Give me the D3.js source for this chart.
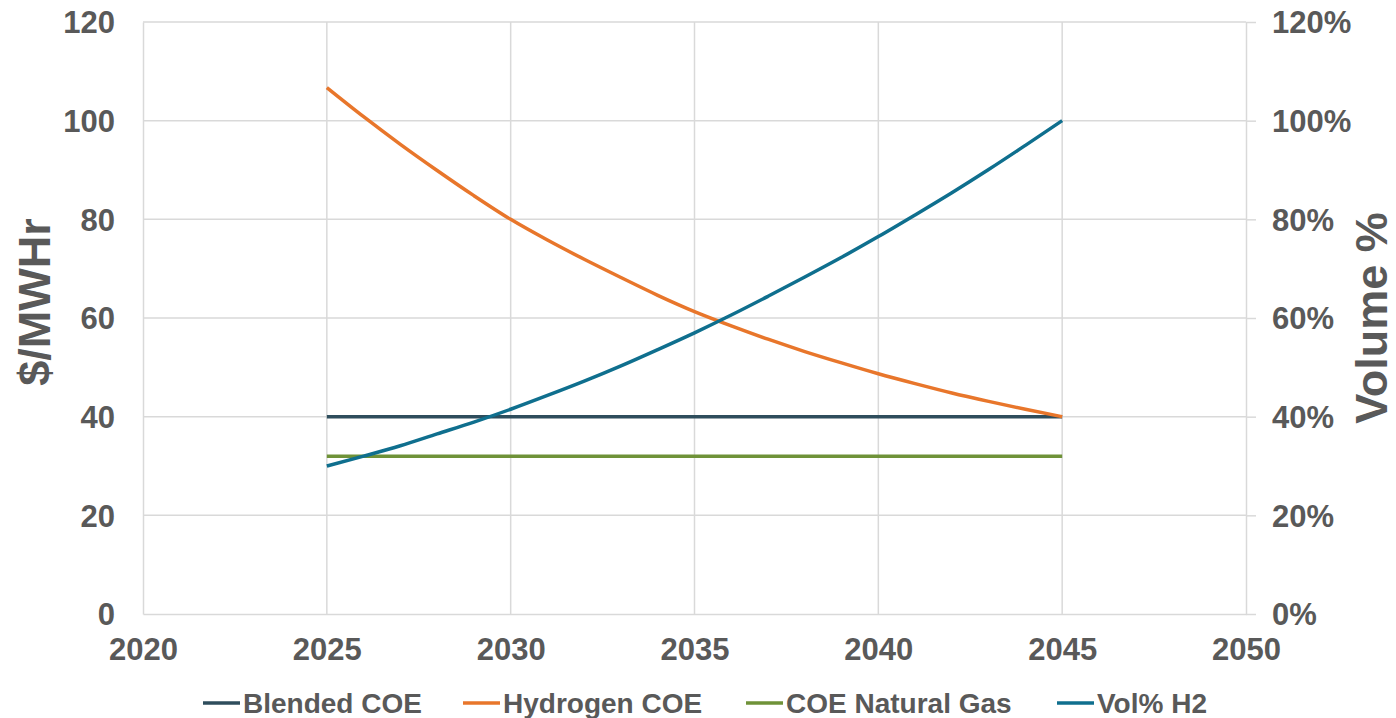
<!DOCTYPE html>
<html>
<head>
    <meta charset="utf-8" />
    <style>
        body { margin: 0; background: #fff; }
        svg { display: block; font-family: "Liberation Sans", Arial, sans-serif; }
        .grid line { stroke: #d9d9d9; stroke-width: 1.5; }
        .axis path, .axis line { stroke: #d9d9d9; stroke-width: 1.5; }
        .axis text { fill: #595959; font-weight: bold; font-size: 31px; }
        .title { fill: #595959; font-weight: bold; font-size: 45px; }
        .legend text { fill: #595959; font-weight: bold; font-size: 28px; }
    </style>
    <script src="https://d3js.org/d3.v7.min.js"></script>
</head>
<body>
<script>

// data
let years = d3.range(2025, 2046);
let blendedCOE = years.map(() => 40);
let naturalGasCOE = years.map(() => 32);
let hydrogenCOE = [106.7, 100.8, 95.2, 89.9, 84.8, 80.0, 75.8, 71.9, 68.2, 64.6,
                   61.3, 58.4, 55.7, 53.2, 50.9, 48.7, 46.7, 44.8, 43.1, 41.5, 40.0];
let volH2 = [30.0, 32.0, 34.1, 36.5, 38.9, 41.5, 44.3, 47.2, 50.3, 53.6,
             57.0, 60.6, 64.4, 68.3, 72.3, 76.5, 80.9, 85.4, 90.1, 95.0, 100.0];

let xTicks = [2020, 2025, 2030, 2035, 2040, 2045, 2050];
let yTicks = [0, 20, 40, 60, 80, 100, 120];
let y2Ticks = [0, 20, 40, 60, 80, 100, 120];

let seriesNames = ["Blended COE", "Hydrogen COE", "COE Natural Gas", "Vol% H2"];
let seriesColors = ["#2e4d5c", "#e8762b", "#6f9238", "#0f6f8e"];

let realW = 1396, realH = 718;
let margin = { top: 22, right: 150, bottom: 104, left: 143 };
let w = realW - margin.left - margin.right,
    h = realH - margin.top - margin.bottom;

let svg = d3.select("body").append("svg")
    .attr("width", realW)
    .attr("height", realH);

let g = svg.append("g")
    .attr("transform", "translate(" + margin.left + "," + margin.top + ")");

let xScale = d3.scaleLinear().domain([2020, 2050]).range([0, w]);
let yScale = d3.scaleLinear().domain([0, 120]).range([h, 0]);
let y2Scale = d3.scaleLinear().domain([0, 120]).range([h, 0]);

// gridlines
g.append("g").attr("class", "grid")
    .selectAll("line").data(xTicks.slice(1, -1)).enter().append("line")
    .attr("x1", d => xScale(d)).attr("x2", d => xScale(d))
    .attr("y1", 0).attr("y2", h);

g.append("g").attr("class", "grid")
    .selectAll("line").data(yTicks.slice(1)).enter().append("line")
    .attr("x1", 0).attr("x2", w)
    .attr("y1", d => yScale(d)).attr("y2", d => yScale(d));

// axes
let xAxis = d3.axisBottom(xScale).tickValues(xTicks).tickFormat(d3.format("d"))
    .tickSize(0).tickPadding(24);
g.append("g").attr("class", "axis")
    .attr("transform", "translate(0," + h + ")")
    .call(xAxis);

let yAxis = d3.axisLeft(yScale).tickValues(yTicks).tickSize(0).tickPadding(28);
g.append("g").attr("class", "axis").call(yAxis);

let y2Axis = d3.axisRight(y2Scale).tickValues(y2Ticks)
    .tickFormat(d => d + "%").tickSizeInner(10).tickSizeOuter(0).tickPadding(16);
g.append("g").attr("class", "axis")
    .attr("transform", "translate(" + w + ",0)")
    .call(y2Axis);

g.selectAll(".axis text").attr("dy", "0.35em");
g.selectAll(".axis").filter((d, i) => i === 0).selectAll("text").attr("dy", "0.71em");

// axis titles
svg.append("text").attr("class", "title")
    .attr("transform", "translate(50," + (margin.top + h / 2 - 16) + ") rotate(-90)")
    .attr("text-anchor", "middle")
    .text("$/MWHr");

svg.append("text").attr("class", "title")
    .attr("transform", "translate(1387," + (margin.top + h / 2) + ") rotate(-90)")
    .attr("text-anchor", "middle")
    .text("Volume %");

// lines
let lineLeft = d3.line().x((d, i) => xScale(years[i])).y(d => yScale(d)).curve(d3.curveMonotoneX);
let lineRight = d3.line().x((d, i) => xScale(years[i])).y(d => y2Scale(d)).curve(d3.curveMonotoneX);

let seriesData = [blendedCOE, hydrogenCOE, naturalGasCOE];
seriesData.forEach((s, i) => {
    g.append("path")
        .attr("d", lineLeft(s))
        .attr("fill", "none")
        .attr("stroke", seriesColors[i])
        .attr("stroke-width", 3.5);
});
g.append("path")
    .attr("d", lineRight(volH2))
    .attr("fill", "none")
    .attr("stroke", seriesColors[3])
    .attr("stroke-width", 3.5);

// legend
let legendX = [203, 463, 746, 1057];
let legend = svg.append("g").attr("class", "legend");
seriesNames.forEach((name, i) => {
    legend.append("line")
        .attr("x1", legendX[i]).attr("x2", legendX[i] + 37)
        .attr("y1", 703).attr("y2", 703)
        .attr("stroke", seriesColors[i]).attr("stroke-width", 3.5);
    legend.append("text")
        .attr("x", legendX[i] + 40).attr("y", 713)
        .text(name);
});

</script>
</body>
</html>
